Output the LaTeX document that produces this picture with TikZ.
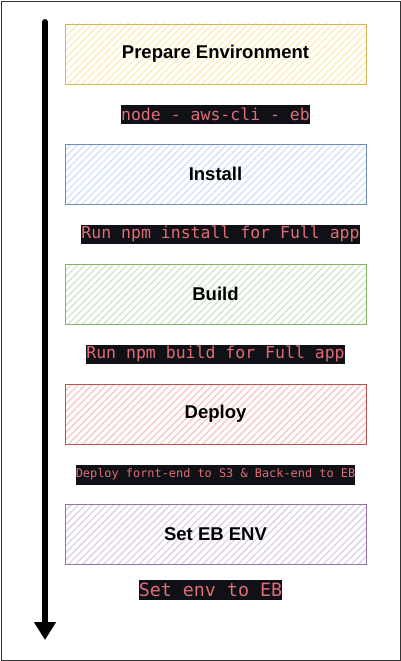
\documentclass[tikz,border=0pt]{standalone}
\usepackage{fontspec}
\setmainfont{Liberation Sans}
\newfontfamily\codefont{DejaVu Sans Mono}
\usetikzlibrary{positioning,arrows.meta,patterns.meta}
\def\dy{20.5pt}
\definecolor{codebg}{HTML}{0F1117}
\definecolor{codefg}{HTML}{E06C75}
\definecolor{yellowfill}{HTML}{FCEDB8}
\definecolor{yellowline}{HTML}{D6B656}
\definecolor{bluefill}{HTML}{D0E2FA}
\definecolor{blueline}{HTML}{6C8EBF}
\definecolor{greenfill}{HTML}{CDE6CA}
\definecolor{greenline}{HTML}{82B366}
\definecolor{redfill}{HTML}{F8C6C3}
\definecolor{redline}{HTML}{B85450}
\definecolor{purplefill}{HTML}{DDCFE5}
\definecolor{purpleline}{HTML}{9673A6}
\tikzstyle{stage}=[draw,thick,outer sep=0pt,minimum width=301pt,minimum height=60pt,
  font=\fontsize{18.5}{20}\selectfont\bfseries,
  pattern={Lines[angle=45,distance=5pt,line width=1.3pt]}]
\tikzstyle{cmd}=[fill=codebg,text=codefg,inner sep=0pt,outer sep=0pt,minimum height=19pt,
  font=\codefont\fontsize{16.5}{18}\selectfont]
\newcommand{\newStage}[4]{\node[stage,#3](#1)[#4]{#2};}
\newcommand{\newCmd}[4]{\node[cmd,#3](#1)[#4]{#2};}
\begin{document}
\begin{tikzpicture}[node distance=\dy and 0pt]
      \useasboundingbox (0,0) rectangle (401pt,-661pt);
      \draw[black!80] (1pt,-1pt) rectangle (400pt,-660pt);

      \newStage{prep}{Prepare Environment}{draw=yellowline,pattern color=yellowfill}{at={(215.5pt,-54pt)}}
      \newCmd{tools}{node - aws-cli - eb}{}{below=of prep}
      \newStage{install}{Install}{draw=blueline,pattern color=bluefill}{below=of tools}
      \newCmd{npmi}{Run npm install for Full app}{xshift=5pt}{below=of install}
      \newStage{build}{Build}{draw=greenline,pattern color=greenfill}{below=of npmi.south -| install.south}
      \newCmd{npmb}{Run npm build for Full app}{}{below=of build}
      \newStage{deploy}{Deploy}{draw=redline,pattern color=redfill}{below=of npmb}
      \newCmd{s3eb}{Deploy fornt-end to S3 \& Back-end to EB}{minimum height=20pt,font=\codefont\fontsize{11.9}{13}\selectfont}{below=of deploy}
      \newStage{envset}{Set EB ENV}{draw=purpleline,pattern color=purplefill}{below=19.5pt of s3eb}
      \newCmd{envcmd}{Set env to EB}{xshift=-5pt,minimum height=20pt,font=\codefont\fontsize{18.3}{20}\selectfont}{below=16pt of envset}

      \coordinate (start) at (45pt,-22pt);
      \coordinate (finish) at (45pt,-640pt);
      \draw[line width=6pt,line cap=round,-{Triangle[width=21pt,length=18pt]}] (start) -- (finish);
\end{tikzpicture}
\end{document}
